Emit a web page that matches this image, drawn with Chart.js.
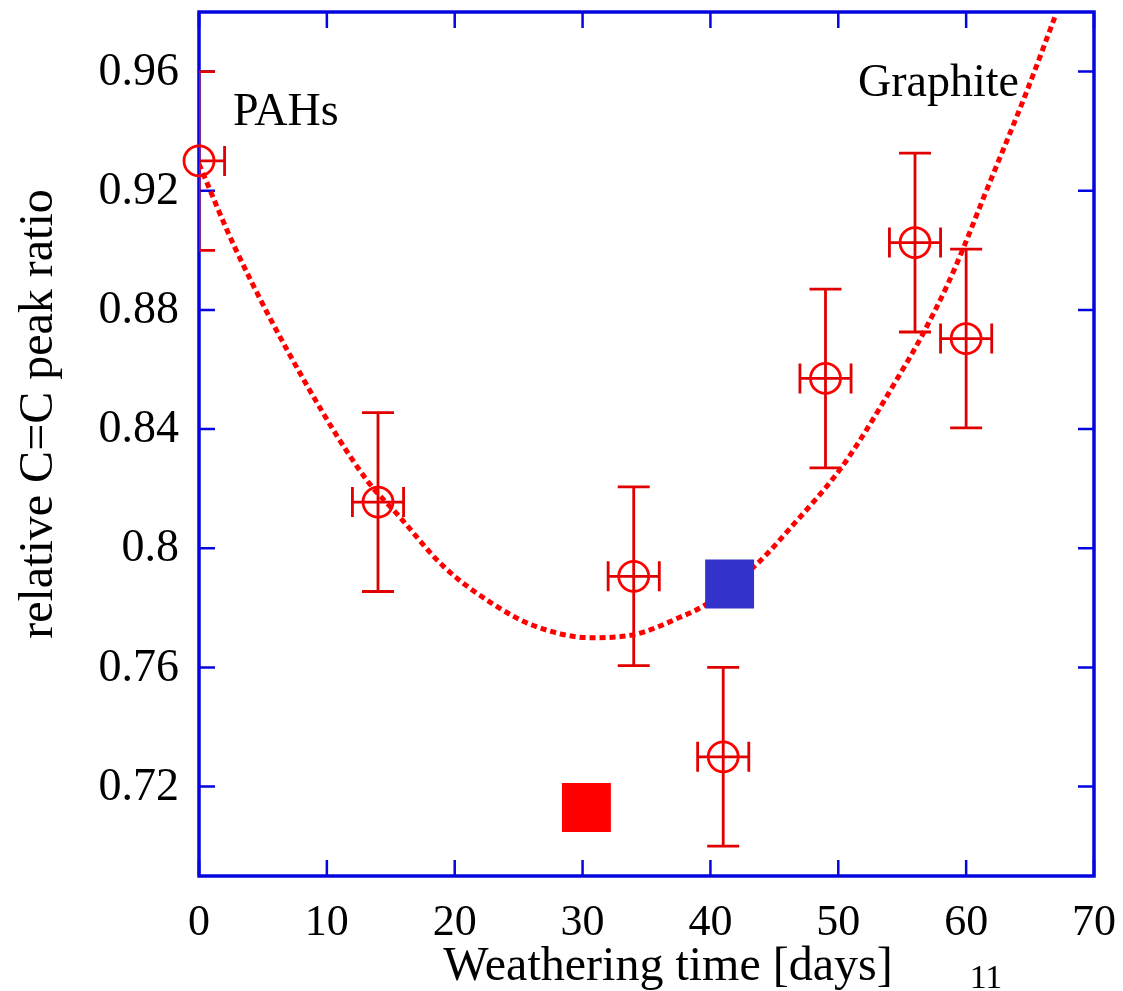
<!DOCTYPE html>
<html>
<head>
<meta charset="utf-8">
<script src="https://cdn.jsdelivr.net/npm/chart.js@4/dist/chart.umd.min.js"></script>
<style>
  html, body { margin: 0; padding: 0; background: #fff; }
</style>
</head>
<body>
<canvas id="chart" width="1123" height="991"></canvas>
<script>
// measured C=C peak ratio vs weathering time
const days = [0, 14, 34, 41, 49, 56, 60];
const ratio = [0.930, 0.8155, 0.7906, 0.730, 0.857, 0.9026, 0.8704];
const ratioErr = [0.03, 0.03, 0.03, 0.03, 0.03, 0.03, 0.03];
const daysErr = [2, 2, 2, 2, 2, 2, 2];

// fitted trend (dotted)
const fitDays = [0, 2.8, 8.4, 13.1, 15.6, 19.1, 23.1, 26.2, 30.6, 34.0, 37.7, 39.6, 43.7, 46.5, 49.7, 51.2, 54.9, 56.5, 58.6, 59.9, 61.3, 64.8, 67.0];
const fitRatio = [0.929, 0.901, 0.855, 0.823, 0.811, 0.794, 0.781, 0.774, 0.770, 0.771, 0.777, 0.781, 0.795, 0.808, 0.824, 0.833, 0.859, 0.871, 0.889, 0.902, 0.917, 0.954, 0.979];

// single square markers
const redSquareDay = [30.3];
const redSquareRatio = [0.713];
const blueSquareDay = [41.5];
const blueSquareRatio = [0.788];

const xTicks = [0, 10, 20, 30, 40, 50, 60, 70];
const yTicks = [0.72, 0.76, 0.80, 0.84, 0.88, 0.92, 0.96];
const yTickLabels = ['0.72', '0.76', '0.8', '0.84', '0.88', '0.92', '0.96'];

const axisBlue = '#0505e0';
const barRed = '#e00000';
const serif = '"Liberation Serif", "Times New Roman", serif';

const pts = (xs, ys) => xs.map((v, i) => ({ x: v, y: ys[i] }));

// frame with inward ticks on all four sides, then the error bars
const frameAndBars = {
  id: 'frameAndBars',
  beforeDatasetsDraw(chart) {
    const { ctx, chartArea: a, scales: { x, y } } = chart;
    ctx.save();
    ctx.strokeStyle = axisBlue;
    ctx.lineWidth = 3.5;
    ctx.strokeRect(a.left, a.top, a.right - a.left, a.bottom - a.top);
    ctx.lineWidth = 2.5;
    ctx.beginPath();
    xTicks.forEach(v => {
      const px = x.getPixelForValue(v);
      ctx.moveTo(px, a.bottom); ctx.lineTo(px, a.bottom - 16);
      ctx.moveTo(px, a.top); ctx.lineTo(px, a.top + 16);
    });
    yTicks.forEach(v => {
      const py = y.getPixelForValue(v);
      ctx.moveTo(a.left, py); ctx.lineTo(a.left + 16, py);
      ctx.moveTo(a.right, py); ctx.lineTo(a.right - 16, py);
    });
    ctx.stroke();

    // tick labels
    ctx.fillStyle = '#000';
    ctx.font = '44px ' + serif;
    ctx.textAlign = 'center';
    ctx.textBaseline = 'alphabetic';
    xTicks.forEach(v => ctx.fillText(String(v), x.getPixelForValue(v), a.bottom + 59));
    ctx.font = '46px ' + serif;
    ctx.textAlign = 'right';
    ctx.textBaseline = 'middle';
    yTicks.forEach((v, i) => ctx.fillText(yTickLabels[i], a.left - 20, y.getPixelForValue(v) + 1));

    ctx.beginPath();
    ctx.rect(a.left, a.top, a.right - a.left, a.bottom - a.top);
    ctx.clip();
    ctx.strokeStyle = barRed;
    ctx.lineWidth = 2.8;
    ctx.beginPath();
    days.forEach((d, i) => {
      const cx = x.getPixelForValue(d);
      const cy = y.getPixelForValue(ratio[i]);
      const top = y.getPixelForValue(ratio[i] + ratioErr[i]);
      const bot = y.getPixelForValue(ratio[i] - ratioErr[i]);
      const lft = x.getPixelForValue(d - daysErr[i]);
      const rgt = x.getPixelForValue(d + daysErr[i]);
      ctx.moveTo(cx, top); ctx.lineTo(cx, bot);
      ctx.moveTo(cx - 16, top); ctx.lineTo(cx + 16, top);
      ctx.moveTo(cx - 16, bot); ctx.lineTo(cx + 16, bot);
      ctx.moveTo(lft, cy); ctx.lineTo(rgt, cy);
      ctx.moveTo(lft, cy - 15); ctx.lineTo(lft, cy + 15);
      ctx.moveTo(rgt, cy - 15); ctx.lineTo(rgt, cy + 15);
    });
    ctx.stroke();
    ctx.restore();
  },
  afterDraw(chart) {
    const { ctx } = chart;
    ctx.save();
    ctx.fillStyle = '#000';
    ctx.textBaseline = 'alphabetic';
    ctx.font = '46px ' + serif;
    ctx.textAlign = 'left';
    ctx.fillText('PAHs', 233, 125);
    ctx.fillText('Graphite', 858, 96);
    ctx.font = '48px ' + serif;
    ctx.textAlign = 'center';
    ctx.fillText('Weathering time [days]', 668, 980);
    ctx.font = '34px ' + serif;
    ctx.fillText('11', 986, 988);
    ctx.translate(52, 414);
    ctx.rotate(-Math.PI / 2);
    ctx.font = '48px ' + serif;
    ctx.fillText('relative C=C peak ratio', 0, 0);
    ctx.restore();
  }
};

new Chart(document.getElementById('chart'), {
  type: 'scatter',
  data: {
    datasets: [
      {
        data: pts(blueSquareDay, blueSquareRatio),
        pointStyle: 'rect',
        pointRadius: 34.6,
        borderWidth: 0,
        backgroundColor: '#3333cc',
        order: 0
      },
      {
        data: pts(redSquareDay, redSquareRatio),
        pointStyle: 'rect',
        pointRadius: 34.6,
        borderWidth: 0,
        backgroundColor: '#ff0000',
        order: 1
      },
      {
        data: pts(days, ratio),
        pointStyle: 'circle',
        pointRadius: 15,
        borderWidth: 2.8,
        borderColor: '#ff0000',
        backgroundColor: 'rgba(0,0,0,0)',
        clip: false,
        order: 2
      },
      {
        type: 'line',
        data: pts(fitDays, fitRatio),
        borderColor: '#ff0000',
        borderWidth: 5,
        borderDash: [6, 4],
        cubicInterpolationMode: 'monotone',
        pointRadius: 0,
        fill: false,
        order: 3
      }
    ]
  },
  options: {
    responsive: false,
    animation: false,
    layout: { autoPadding: false, padding: { top: 12, right: 29, left: 0, bottom: 0 } },
    plugins: { legend: { display: false }, tooltip: { enabled: false } },
    scales: {
      x: {
        type: 'linear',
        min: 0,
        max: 70,
        grid: { display: false, drawTicks: false },
        border: { display: false },
        afterBuildTicks: s => { s.ticks = xTicks.map(v => ({ value: v })); },
        afterFit: s => { s.height = 115; },
        ticks: { display: false }
      },
      y: {
        min: 0.69,
        max: 0.98,
        grid: { display: false, drawTicks: false },
        border: { display: false },
        afterBuildTicks: s => { s.ticks = yTicks.map(v => ({ value: v })); },
        afterFit: s => { s.width = 199; },
        ticks: { display: false }
      }
    }
  },
  plugins: [frameAndBars]
});
</script>
</body>
</html>
